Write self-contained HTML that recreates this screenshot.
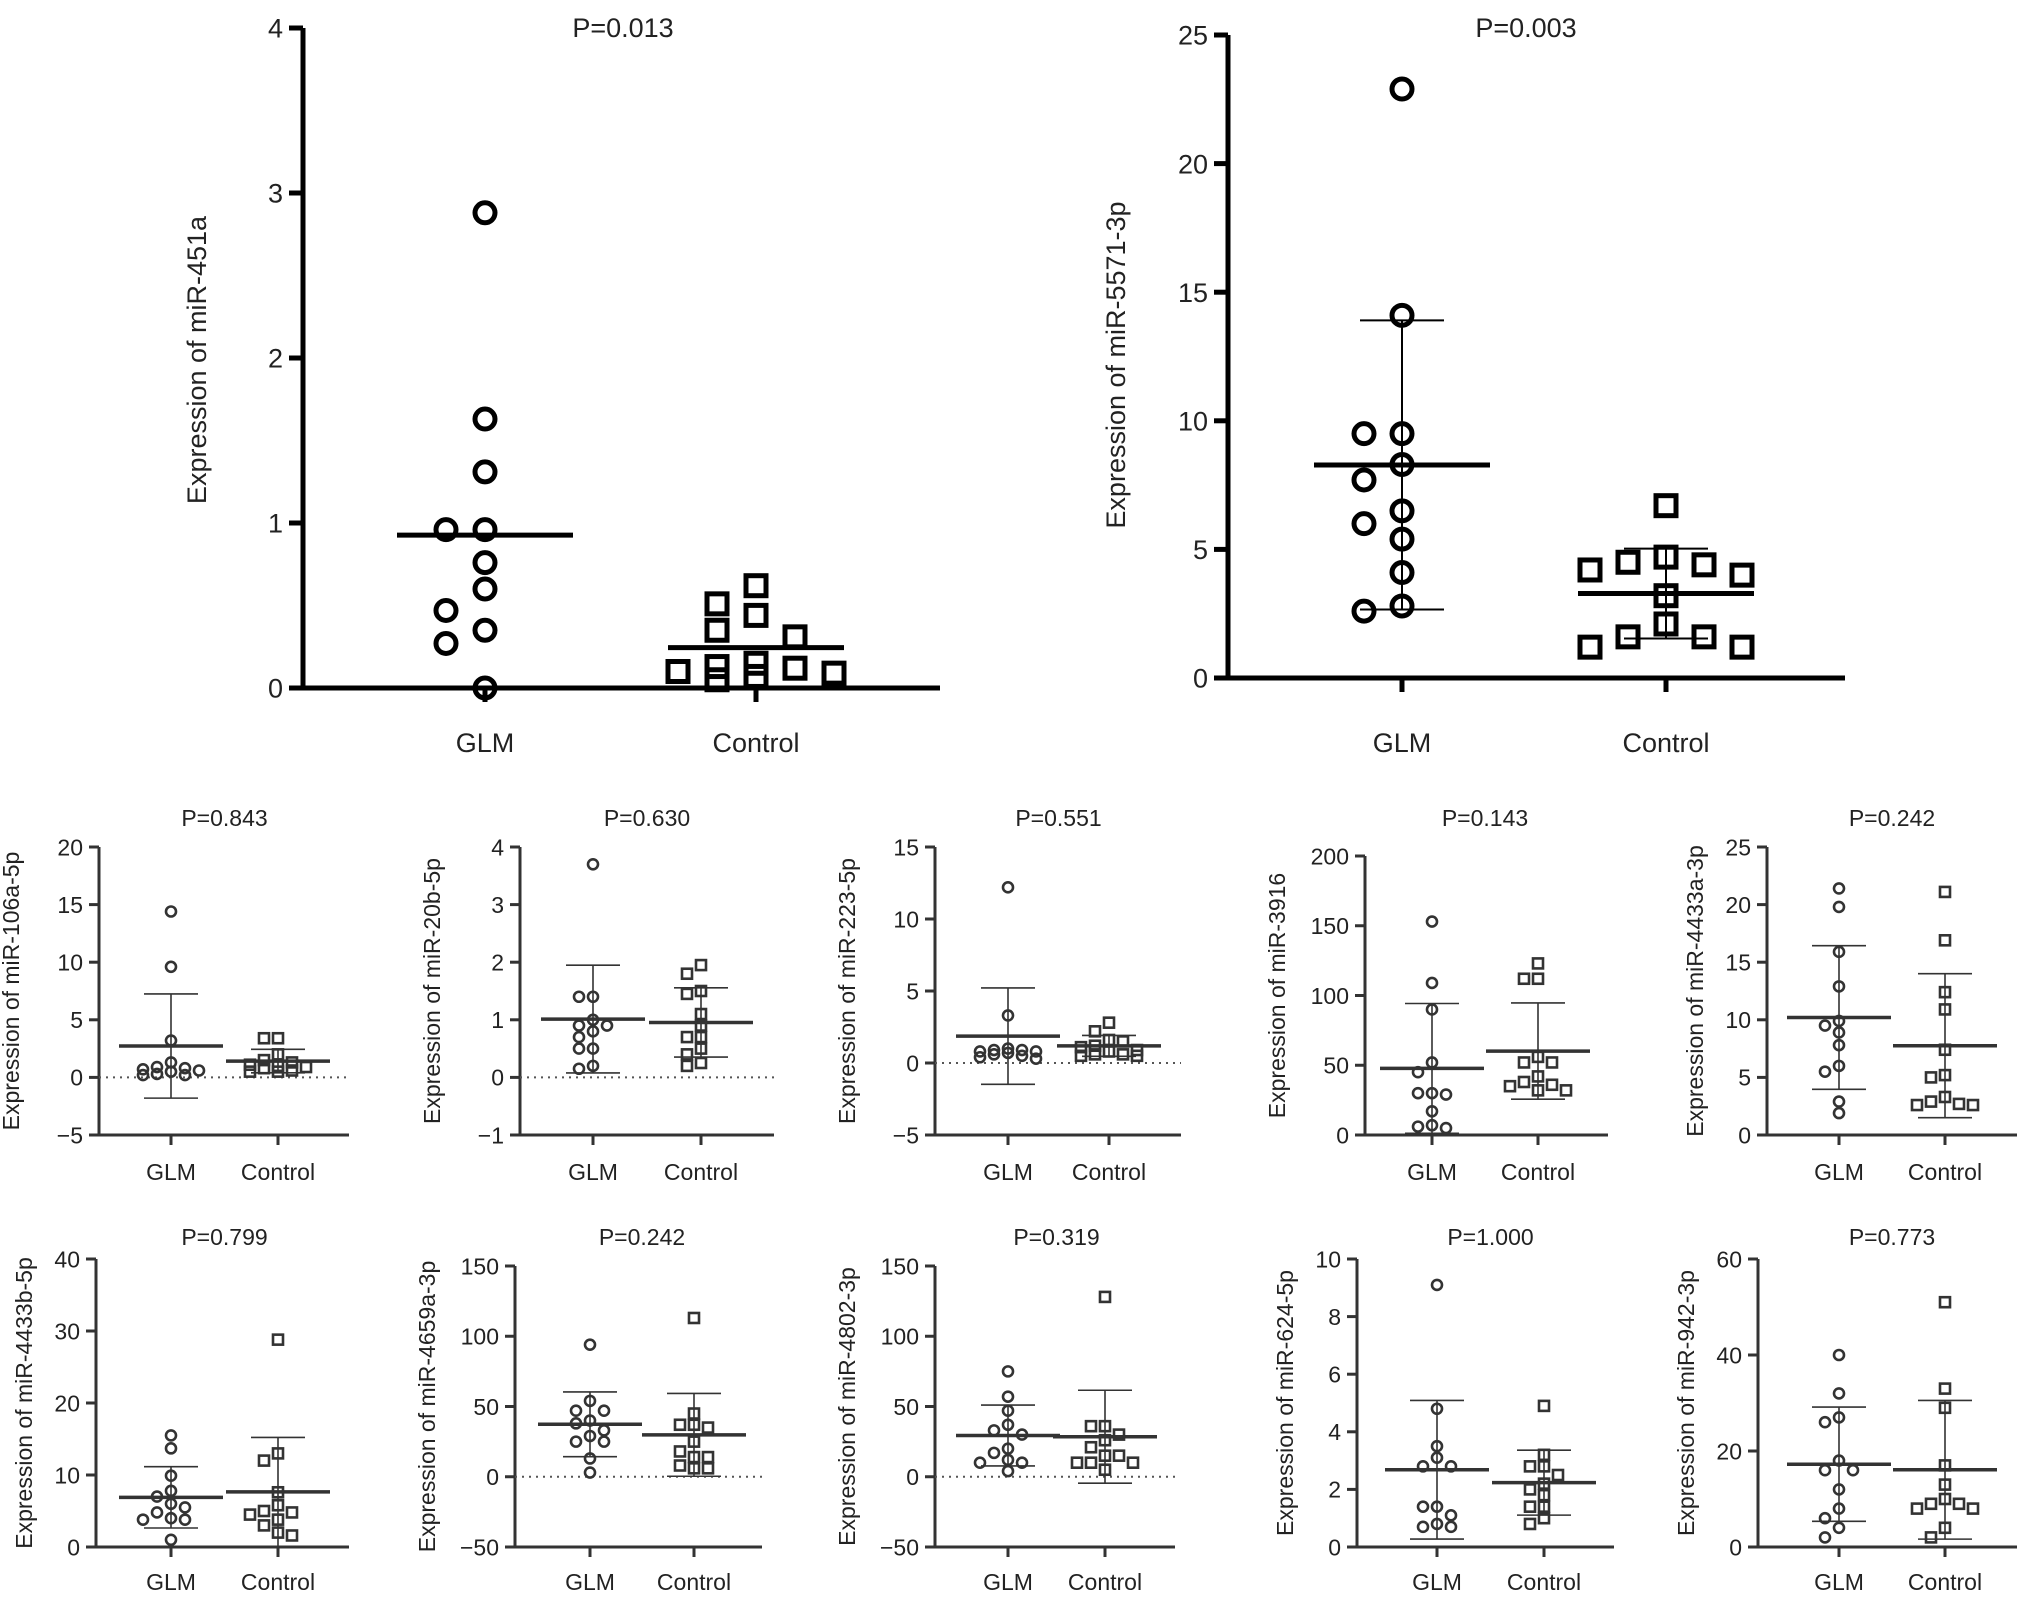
<!DOCTYPE html>
<html><head><meta charset="utf-8"><style>
html,body{margin:0;padding:0;background:#fff}
svg{display:block}
text{font-family:"Liberation Sans",Arial,sans-serif}
</style></head><body>
<svg id="chart" width="2031" height="1599" viewBox="0 0 2031 1599" xmlns="http://www.w3.org/2000/svg"></svg>
<script>
// ---- data ----
const groups = ["GLM", "Control"];
const p451Glm = [2.88,1.63,1.31,0.96,0.96,0.76,0.60,0.47,0.35,0.27,0.0];
const p451Ctl = [0.62,0.51,0.44,0.35,0.31,0.15,0.13,0.12,0.10,0.09,0.07,0.05];
const p5571Glm = [22.9,14.1,9.5,9.5,8.3,7.7,6.5,6.0,5.4,4.1,2.8,2.6];
const p5571Ctl = [6.7,4.7,4.5,4.4,4.2,4.0,3.2,2.1,1.6,1.6,1.2,1.2];
const s106Glm = [14.4,9.6,3.2,1.3,0.9,0.7,0.6,0.5,0.3,0.2,0.8,0.2];
const s106Ctl = [3.4,3.4,2.0,1.5,1.3,1.1,1.0,0.9,0.8,0.6,0.5,0.5];
const s20bGlm = [3.7,1.4,1.4,1.0,0.9,0.8,0.7,0.5,0.5,0.2,0.15,0.9];
const s20bCtl = [1.95,1.8,1.5,1.45,1.1,0.9,0.7,0.7,0.5,0.4,0.2,0.25];
const s223Glm = [12.2,3.3,1.0,0.9,0.8,0.8,0.7,0.6,0.5,0.4,0.3,0.9];
const s223Ctl = [2.8,2.2,1.6,1.5,1.2,1.1,0.9,0.8,0.6,0.5,0.6,0.5];
const s3916Glm = [153,109,90,52,45,30,30,29,17,7,6,5];
const s3916Ctl = [123,112,112,56,52,52,42,38,36,35,32,32];
const s4433aGlm = [21.4,19.8,15.9,12.9,9.9,9.5,8.9,7.8,6.0,5.5,2.9,1.9];
const s4433aCtl = [21.1,16.9,12.4,10.9,7.4,5.2,5.0,3.3,2.9,2.7,2.6,2.6];
const s4433bGlm = [15.5,13.7,9.9,7.8,7.0,6.0,5.5,4.8,4.0,3.8,3.8,1.0];
const s4433bCtl = [28.8,13.0,12.0,7.6,5.8,5.0,4.8,4.5,3.8,3.0,2.0,1.6];
const s4659Glm = [94,54,47,47,40,38,33,29,25,25,13,3];
const s4659Ctl = [113,45,37,37,35,25,18,14,14,8,6,6];
const s4802Glm = [75,57,47,37,33,30,20,17,10,10,4,12];
const s4802Ctl = [128,36,36,30,26,21,15,15,10,10,5,10];
const s624Glm = [9.1,4.8,3.5,3.1,2.8,2.8,1.4,1.4,1.1,0.8,0.7,0.7];
const s624Ctl = [4.9,3.2,2.8,2.8,2.5,2.2,2.0,1.8,1.4,1.4,1.0,0.8];
const s942Glm = [40,32,27,26,18,16,16,12,8,6,4,2];
const s942Ctl = [51,33,29,17,13,10,9,9,8,8,4,2];
const pValues = ["P=0.013","P=0.003","P=0.843","P=0.630","P=0.551","P=0.143","P=0.242","P=0.799","P=0.242","P=0.319","P=1.000","P=0.773"];

const NS="http://www.w3.org/2000/svg";
const svg=document.getElementById('chart');
function el(tag,attrs,parent){const e=document.createElementNS(NS,tag);for(const k in attrs)e.setAttribute(k,attrs[k]);(parent||svg).appendChild(e);return e;}
function mean(a){return a.reduce((s,v)=>s+v,0)/a.length;}
function sd(a){const m=mean(a);return Math.sqrt(a.reduce((s,v)=>s+(v-m)*(v-m),0)/(a.length-1));}

function panel(o){
  const g=el('g',{});
  
  
  const y=v=>o.y1+(o.max-v)/(o.max-o.min)*(o.y0-o.y1);
  const xs=[o.xg,o.xc];
  const col=o.color;
  const ya=el('line',{x1:o.ax,y1:o.y1,x2:o.ax,y2:o.y0,stroke:col,'stroke-width':o.aw},g);
  
  const xa=el('line',{x1:o.ax-o.tl,y1:o.y0,x2:o.xend,y2:o.y0,stroke:col,'stroke-width':o.aw},g);
  
  o.ticks.forEach(t=>{
    el('line',{x1:o.ax-o.tl,y1:y(t),x2:o.ax,y2:y(t),stroke:col,'stroke-width':o.aw},g);
    const tx=el('text',{x:o.ax-o.tl-6,y:y(t)+o.fs*0.36,'text-anchor':'end','font-size':o.fs,fill:'#222'},g);
    tx.textContent=String(t).replace('-','\u2212');
    
  });
  if(o.min<0){
    const zl=el('line',{x1:o.ax,y1:y(0),x2:o.xend,y2:y(0),stroke:'#555','stroke-width':2,'stroke-dasharray':'2,5'},g);
    
  }
  groups.forEach((gn,i)=>{
    el('line',{x1:xs[i],y1:o.y0,x2:xs[i],y2:o.y0+o.tl,stroke:col,'stroke-width':o.aw},g);
    const lb=el('text',{x:xs[i],y:o.xly,'text-anchor':'middle','font-size':o.lfs,fill:'#222'},g);
    lb.textContent=gn;
    
  });
  const tt=el('text',{x:o.tx,y:o.ty,'text-anchor':'middle','font-size':o.lfs,fill:'#222'},g);
  tt.textContent=o.p;
  
  const yt=el('text',{x:0,y:0,'text-anchor':'middle','font-size':o.lfs,fill:'#222',transform:`translate(${o.ytx},${o.yty}) rotate(-90)`},g);
  yt.textContent=o.ytitle;
  
  [o.glm,o.ctl].forEach((arr,i)=>{
    const m=mean(arr),s=sd(arr),cx=xs[i];
    if(o.sd){
      const lo=Math.max(y(m+s),o.y1), hi=y(m-s);
      const eb=el('path',{d:`M${cx},${lo}V${hi}M${cx-o.cap},${lo}H${cx+o.cap}M${cx-o.cap},${hi}H${cx+o.cap}`,stroke:col,'stroke-width':o.sw,fill:'none'},g);
      
    }
    const ml=el('line',{x1:cx-o.mw,y1:y(m),x2:cx+o.mw,y2:y(m),stroke:col,'stroke-width':o.mlw},g);
    
    const placed=[];
    const order=arr.map((v,k)=>k).sort((a,b)=>arr[b]-arr[a]);
    const thr=2*o.r+o.gap;
    order.forEach(k=>{
      const py=y(arr[k]);
      let best=0,bestD=-1;
      for(const c of [0,-1,1,-2,2]){
        const px=cx+c*o.sp;
        const d=placed.reduce((mn,q)=>Math.min(mn,Math.hypot(q[0]-px,q[1]-py)),1e9);
        if(d>=thr){best=c;bestD=1e9;break;}
        if(d>bestD){bestD=d;best=c;}
      }
      const px=cx+best*o.sp;
      placed.push([px,py]);
      let mk;
      if(i===0) mk=el('circle',{cx:px,cy:py,r:o.r,fill:'none',stroke:col,'stroke-width':o.mkw},g);
      else mk=el('rect',{x:px-o.r,y:py-o.r,width:2*o.r,height:2*o.r,fill:'none',stroke:col,'stroke-width':o.mkw},g);
      
      
    });
  });
}

const big={color:'#000',aw:5,tl:14,fs:27,lfs:27,r:10,mkw:5,sp:39,gap:6,mw:88,mlw:5,sw:2,cap:42};
panel(Object.assign({},big,{name:'chart-mir-451a',ax:303,y1:28,y0:688,xend:940,xg:485,xc:756,min:0,max:4,ticks:[0,1,2,3,4],xly:752,tx:623,ty:37,ytx:206,yty:360,ytitle:'Expression of miR-451a',p:pValues[0],glm:p451Glm,ctl:p451Ctl,sd:false,sp:39}));
panel(Object.assign({},big,{name:'chart-mir-5571-3p',ax:1228,y1:35,y0:678,xend:1845,xg:1402,xc:1666,min:0,max:25,ticks:[0,5,10,15,20,25],xly:752,tx:1526,ty:37,ytx:1125,yty:365,ytitle:'Expression of miR-5571-3p',p:pValues[1],glm:p5571Glm,ctl:p5571Ctl,sd:true,sp:38}));

const small={color:'#333',aw:3,tl:10,fs:23,lfs:23,r:5,mkw:2.6,sp:14,gap:1,mw:52,mlw:3.5,sw:1.6,cap:27,sd:true};
const row1={y1:847,y0:1135,xly:1180,ty:826};
const row2={y1:1259,y0:1547,xly:1590,ty:1245};
const smalls=[
 [row1,99,171,278,349,-5,20,[-5,0,5,10,15,20],'Expression of miR-106a-5p',s106Glm,s106Ctl,2],
 [row1,520,593,701,774,-1,4,[-1,0,1,2,3,4],'Expression of miR-20b-5p',s20bGlm,s20bCtl,3],
 [row1,935,1008,1109,1181,-5,15,[-5,0,5,10,15],'Expression of miR-223-5p',s223Glm,s223Ctl,4],
 [Object.assign({},row1,{y1:856}),1365,1432,1538,1608,0,200,[0,50,100,150,200],'Expression of miR-3916',s3916Glm,s3916Ctl,5],
 [row1,1767,1839,1945,2017,0,25,[0,5,10,15,20,25],'Expression of miR-4433a-3p',s4433aGlm,s4433aCtl,6],
 [row2,96,171,278,349,0,40,[0,10,20,30,40],'Expression of miR-4433b-5p',s4433bGlm,s4433bCtl,7],
 [Object.assign({},row2,{y1:1266}),515,590,694,762,-50,150,[-50,0,50,100,150],'Expression of miR-4659a-3p',s4659Glm,s4659Ctl,8],
 [Object.assign({},row2,{y1:1266}),935,1008,1105,1175,-50,150,[-50,0,50,100,150],'Expression of miR-4802-3p',s4802Glm,s4802Ctl,9],
 [row2,1357,1437,1544,1614,0,10,[0,2,4,6,8,10],'Expression of miR-624-5p',s624Glm,s624Ctl,10],
 [row2,1758,1839,1945,2017,0,60,[0,20,40,60],'Expression of miR-942-3p',s942Glm,s942Ctl,11]
];
smalls.forEach(s=>{
  const [r,ax,xg,xc,xend,mn,mx,ticks,yt,g,c,pi]=s;
  const digits=String(mx).length;
  panel(Object.assign({},small,r,{name:'chart-'+yt.replace('Expression of ','').toLowerCase(),ax,xg,xc,xend,min:mn,max:mx,ticks,ytitle:yt,glm:g,ctl:c,p:pValues[pi],tx:(xg+xc)/2,ytx:ax-(mn<0||digits>2?80:64),yty:(r.y1+r.y0)/2}));
});
</script>
</body></html>
